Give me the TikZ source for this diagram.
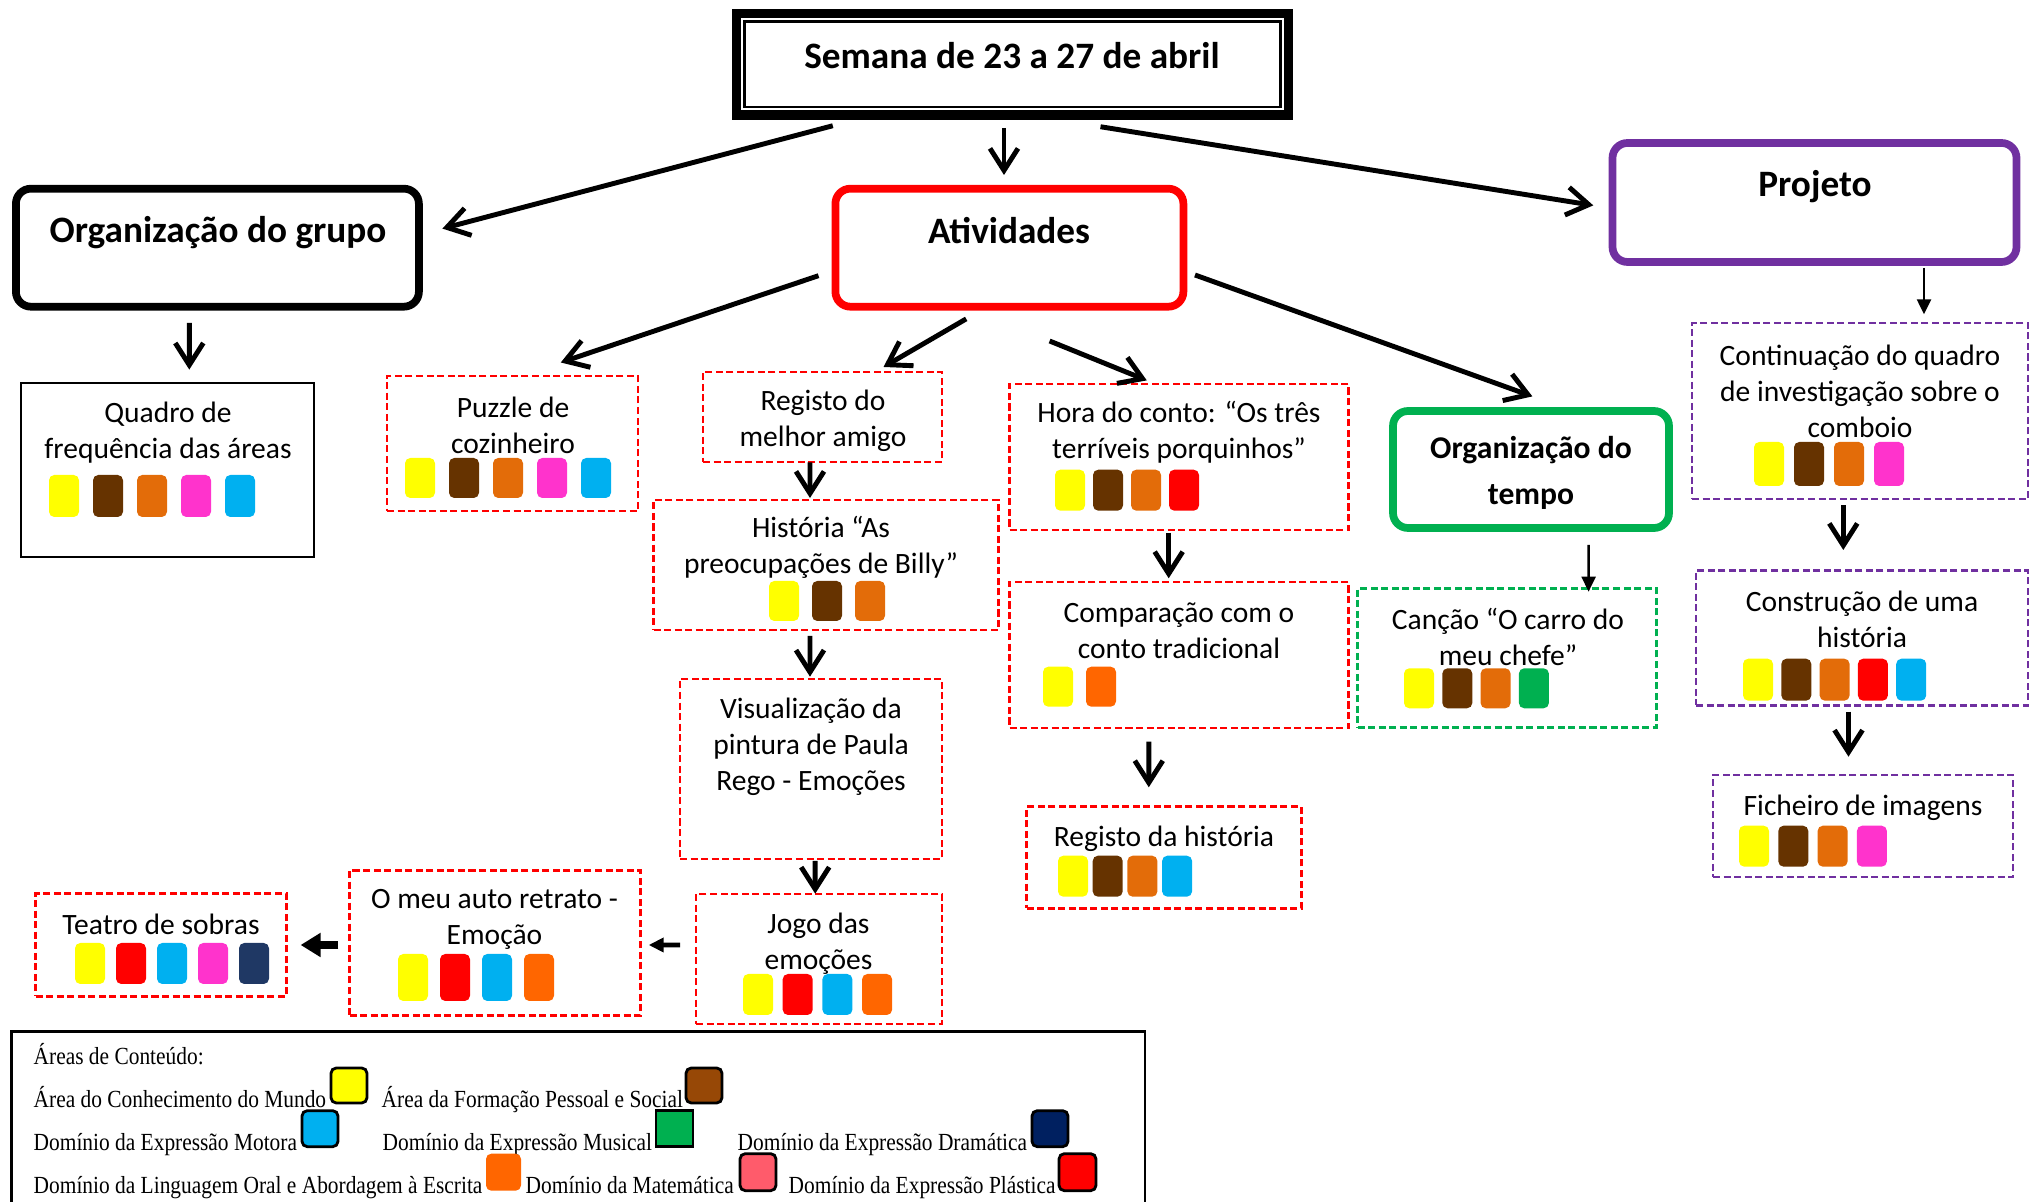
\documentclass[tikz,border=0pt]{standalone}
\usepackage{fontspec}
\setmainfont{Carlito}
\newfontfamily\legfont[FakeStretch=0.87]{Liberation Serif}
\usetikzlibrary{arrows.meta,positioning}

\definecolor{ylw}{HTML}{FFFF00}
\definecolor{brwn}{HTML}{663300}
\definecolor{orgA}{HTML}{E36C09}
\definecolor{orgB}{HTML}{FF6600}
\definecolor{pnk}{HTML}{FF33CC}
\definecolor{cyn}{HTML}{00B0F0}
\definecolor{rd}{HTML}{FF0000}
\definecolor{grn}{HTML}{00B050}
\definecolor{nvy}{HTML}{1F3864}
\definecolor{prj}{HTML}{7030A0}
\definecolor{lbrwn}{HTML}{974806}
\definecolor{lnavy}{HTML}{002060}
\definecolor{rose}{HTML}{FF5B6B}

% row of area chips: x0, bottom y, step, height, colours
\newcommand{\chips}[5]{%
  \foreach \c [count=\i from 0] in {#5}
    \fill[\c, rounded corners=1.5pt] ({#1+\i*#3},#2) rectangle ++(0.3,#4);}

\begin{document}
\begin{tikzpicture}[
    thickarr/.style={line width=1.4pt, -{Straight Barb[length=2.2mm,width=2.8mm]}},
    thinarr/.style={line width=0.7pt, -{Triangle[length=1.5mm,width=1.4mm]}},
    mainbox/.style={rectangle, draw, rounded corners=0.15cm, line width=2.2pt, outer sep=0pt, inner sep=0pt},
    plainbox/.style={rectangle, draw, line width=0.8pt, outer sep=0pt, inner sep=0pt},
    actbox/.style={rectangle, draw=rd, line width=0.8pt, dash pattern=on 2pt off 1pt, outer sep=0pt, inner sep=0pt},
    projbox/.style={actbox, draw=prj},
    timebox/.style={actbox, draw=grn},
    txt/.style={align=center, inner sep=0pt, font=\fontsize{8.4}{10.2}\selectfont},
    head/.style={align=center, inner sep=0pt, font=\fontsize{10.6}{13}\selectfont\bfseries},
    legtxt/.style={anchor=base west, inner sep=0pt, font=\legfont\fontsize{7}{8}\selectfont},
    swatch/.style={draw=black, line width=0.8pt, rounded corners=1.5pt}
]
\useasboundingbox (0,0) rectangle (20.37,-12.02);

% top level
\node[rectangle, draw, line width=2.6pt, outer sep=0pt, minimum width=5.52cm, minimum height=1.015cm] (title) at (10.125,-0.643) {};
\draw[line width=0.7pt] ([shift={(0.078,0.078)}]title.south west) rectangle ([shift={(-0.078,-0.078)}]title.north east);
\node[head] (ttitle) at (10.12,-0.56) {Semana de 23 a 27 de abril};

\node[mainbox, minimum width=4.03cm, minimum height=1.18cm] (grupo) at (2.174,-2.477) {};
\node[head] (tgrupo) at (2.18,-2.33) {Organização do grupo};
\node[mainbox, draw=rd, minimum width=3.48cm, minimum height=1.18cm] (ativ) at (10.094,-2.477) {};
\node[head] (tativ) at (10.09,-2.31) {Atividades};
\node[mainbox, draw=prj, minimum width=4.04cm, minimum height=1.19cm] (proj) at (18.145,-2.025) {};
\node[head] (tproj) at (18.15,-1.87) {Projeto};
\node[mainbox, draw=grn, minimum width=2.76cm, minimum height=1.17cm] (tempo) at (15.31,-4.695) {};
\node[head, font=\fontsize{9}{12.9}\selectfont\bfseries] (ttempo) at (15.31,-4.73) {Organização do\\tempo};

% grupo
\node[plainbox, minimum width=2.93cm, minimum height=1.74cm] (quadro) at (1.675,-4.70) {};
\node[txt] (tquadro) at (1.68,-4.325) {Quadro de\\frequência das áreas};
\chips{0.49}{-5.17}{0.44}{0.42}{ylw,brwn,orgA,pnk,cyn}

% atividades
\node[actbox, minimum width=2.51cm, minimum height=1.35cm] (puzzle) at (5.125,-4.435) {};
\node[txt] (tpuzzle) at (5.13,-4.25) {Puzzle de\\cozinheiro};
\chips{4.05}{-4.98}{0.44}{0.40}{ylw,brwn,orgA,pnk,cyn}

\node[actbox, minimum width=2.39cm, minimum height=0.90cm] (amigo) at (8.225,-4.17) {};
\node[txt] (tamigo) at (8.23,-4.21) {Registo do\\melhor amigo};

\node[actbox, minimum width=3.45cm, minimum height=1.30cm] (billy) at (8.26,-5.65) {};
\node[txt] (tbilly) at (8.21,-5.475) {História “As\\preocupações de Billy”};
\chips{7.69}{-6.21}{0.43}{0.40}{ylw,brwn,orgA}

\node[actbox, minimum width=2.62cm, minimum height=1.80cm] (paula) at (8.11,-7.69) {};
\node[txt] (tpaula) at (8.11,-7.465) {Visualização da\\pintura de Paula\\Rego - Emoções};

\node[actbox, minimum width=2.46cm, minimum height=1.30cm] (jogo) at (8.19,-9.59) {};
\node[txt] (tjogo) at (8.185,-9.435) {Jogo das\\emoções};
\chips{7.43}{-10.15}{0.397}{0.41}{ylw,rd,cyn,orgB}

\node[actbox, minimum width=2.91cm, minimum height=1.45cm] (retrato) at (4.95,-9.43) {};
\node[txt] (tretrato) at (4.945,-9.19) {O meu auto retrato -\\Emoção};
\chips{3.98}{-10.01}{0.42}{0.47}{ylw,rd,cyn,orgB}

\node[actbox, minimum width=2.51cm, minimum height=1.03cm] (teatro) at (1.61,-9.45) {};
\node[txt] (tteatro) at (1.61,-9.245) {Teatro de sobras};
\chips{0.75}{-9.84}{0.41}{0.41}{ylw,rd,cyn,pnk,nvy}

\node[actbox, minimum width=3.39cm, minimum height=1.46cm] (hora) at (11.79,-4.57) {};
\node[txt] (thora) at (11.79,-4.324) {Hora do conto: “Os três\\terríveis porquinhos”};
\chips{10.55}{-5.107}{0.38}{0.41}{ylw,brwn,orgA,rd}

\node[actbox, minimum width=3.39cm, minimum height=1.46cm] (compar) at (11.79,-6.55) {};
\node[txt] (tcompar) at (11.79,-6.31) {Comparação com o\\conto tradicional};
\chips{10.43}{-7.067}{0.43}{0.40}{ylw,orgB}

\node[actbox, minimum width=2.745cm, minimum height=1.016cm] (hist) at (11.64,-8.575) {};
\node[txt] (thist) at (11.64,-8.387) {Registo da história};
\chips{10.58}{-8.967}{0.347}{0.41}{ylw,brwn,orgA,cyn}

% tempo
\node[timebox, minimum width=2.99cm, minimum height=1.39cm] (cancao) at (15.07,-6.58) {};
\node[txt] (tcancao) at (15.08,-6.368) {Canção “O carro do\\meu chefe”};
\chips{14.04}{-7.083}{0.383}{0.40}{ylw,brwn,orgA,grn}

% projeto
\node[projbox, minimum width=3.36cm, minimum height=1.76cm] (comboio) at (18.6,-4.11) {};
\node[txt] (tcomboio) at (18.6,-3.915) {Continuação do quadro\\de investigação sobre o\\comboio};
\chips{17.54}{-4.86}{0.40}{0.44}{ylw,brwn,orgA,pnk}

\node[projbox, minimum width=3.32cm, minimum height=1.35cm] (constr) at (18.62,-6.38) {};
\node[txt] (tconstr) at (18.62,-6.19) {Construção de uma\\história};
\chips{17.43}{-7.007}{0.383}{0.42}{ylw,brwn,orgA,rd,cyn}

\node[projbox, minimum width=3.00cm, minimum height=1.02cm] (fich) at (18.63,-8.26) {};
\node[txt] (tfich) at (18.63,-8.077) {Ficheiro de imagens};
\chips{17.39}{-8.667}{0.393}{0.41}{ylw,brwn,orgA,pnk}

% connectors
\draw[thickarr] ([shift={(-1.797,-0.107)}]title.south) -- ([shift={(0.235,0.191)}]grupo.east);
\draw[thickarr] ([shift={(-0.085,-0.128)}]title.south) -- ([shift={(-0.054,0.137)}]ativ.north);
\draw[thickarr] ([shift={(0.88,-0.117)}]title.south) -- ([shift={(-0.192,-0.029)}]proj.west);
\draw[thickarr] ([shift={(-0.281,-0.163)}]grupo.south) -- ([shift={(0.218,0.134)}]quadro.north);
\draw[thickarr] ([shift={(-0.169,-0.28)}]ativ.west) -- ([shift={(0.483,0.135)}]puzzle.north);
\draw[thickarr] ([shift={(-0.432,-0.122)}]ativ.south) -- ([shift={(0.61,0.05)}]amigo.north);
\draw[thickarr] ([shift={(0.402,-0.343)}]ativ.south) -- ([shift={(-0.322,0.036)}]hora.north);
\draw[thickarr] ([shift={(0.116,-0.273)}]ativ.east) -- ([shift={(0.014,0.146)}]tempo.north);
\draw[thinarr] ([shift={(1.095,-0.059)}]proj.south) -- ([shift={(0.64,0.087)}]comboio.north);
\draw[thinarr] ([shift={(0.576,-0.17)}]tempo.south) -- ([shift={(0.816,-0.032)}]cancao.north);
\draw[thickarr] ([shift={(-0.125,-0.005)}]amigo.south) -- ([shift={(-0.16,0.02)}]billy.north);
\draw[thickarr] ([shift={(-0.16,-0.058)}]billy.south) -- ([shift={(-0.01,0.023)}]paula.north);
\draw[thickarr] ([shift={(0.042,-0.02)}]paula.south) -- ([shift={(-0.038,0.003)}]jogo.north);
\draw[line width=1.4pt, -{Triangle[length=1.5mm,width=1.4mm]}] ([shift={(-0.16,0.14)}]jogo.west) -- ([shift={(0.082,-0.02)}]retrato.east);
\draw[line width=2pt, -{Triangle[length=2mm,width=2.3mm]}] ([shift={(-0.112,-0.02)}]retrato.west) -- ([shift={(0.141,0)}]teatro.east);
\draw[thickarr] ([shift={(-0.103,-0.026)}]hora.south) -- ([shift={(-0.103,0.037)}]compar.north);
\draw[thickarr] ([shift={(-0.302,-0.137)}]compar.south) -- ([shift={(-0.152,0.194)}]hist.north);
\draw[thickarr] ([shift={(-0.167,-0.064)}]comboio.south) -- ([shift={(-0.187,0.205)}]constr.north);
\draw[thickarr] ([shift={(-0.135,-0.062)}]constr.south) -- ([shift={(-0.145,0.183)}]fich.north);

% legend
\draw[line width=0.7pt] (0.117,-10.317) rectangle (11.45,-12.3);
\node[legtxt] (leghead) at (0.33,-10.65) {Áreas de Conteúdo:};
\node[legtxt] (leg1) at (0.33,-11.075) {Área do Conhecimento do Mundo};
\draw[swatch, fill=ylw] (3.31,-11.03) rectangle ++(0.36,0.35);
\node[legtxt] (leg2) at (3.81,-11.075) {Área da Formação Pessoal e Social};
\draw[swatch, fill=lbrwn] (6.86,-11.03) rectangle ++(0.36,0.35);
\node[legtxt] (leg3) at (0.33,-11.51) {Domínio da Expressão Motora};
\draw[swatch, fill=cyn] (3.02,-11.467) rectangle ++(0.36,0.36);
\node[legtxt] (leg4) at (3.82,-11.51) {Domínio da Expressão Musical};
\draw[swatch, fill=grn, sharp corners] (6.56,-11.467) rectangle ++(0.37,0.36);
\node[legtxt] (leg5) at (7.37,-11.51) {Domínio da Expressão Dramática};
\draw[swatch, fill=lnavy] (10.32,-11.467) rectangle ++(0.36,0.36);
\node[legtxt] (leg6) at (0.33,-11.94) {Domínio da Linguagem Oral e Abordagem à Escrita};
\fill[orgB, rounded corners=1.5pt] (4.86,-11.907) rectangle ++(0.35,0.37);
\node[legtxt] (leg7) at (5.25,-11.94) {Domínio da Matemática};
\draw[swatch, fill=rose] (7.40,-11.907) rectangle ++(0.36,0.37);
\node[legtxt] (leg8) at (7.88,-11.94) {Domínio da Expressão Plástica};
\draw[swatch, fill=rd] (10.59,-11.907) rectangle ++(0.37,0.37);
\end{tikzpicture}
\end{document}
